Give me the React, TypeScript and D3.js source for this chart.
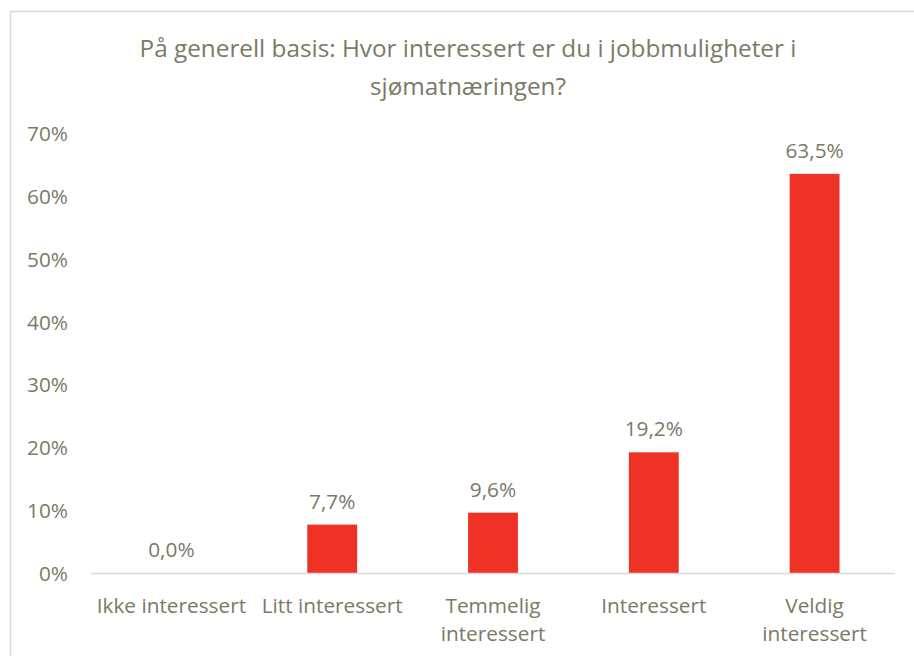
import React from "react";
import * as d3 from "d3";

const titleLines = ["På generell basis: Hvor interessert er du i jobbmuligheter i", "sjømatnæringen?"];
const categories = ["Ikke interessert", "Litt interessert", "Temmelig interessert", "Interessert", "Veldig interessert"];
const categoryLines = [["Ikke interessert"], ["Litt interessert"], ["Temmelig", "interessert"], ["Interessert"], ["Veldig", "interessert"]];
const values = [0.0, 7.7, 9.6, 19.2, 63.5];
const valueLabels = ["0,0%", "7,7%", "9,6%", "19,2%", "63,5%"];
const yTicks = [0, 10, 20, 30, 40, 50, 60, 70];

const W = 914;
const H = 656;
const textColor = "#7a7a66";
const barColor = "#EE3326";
const font = "'Open Sans', 'Noto Sans', sans-serif";

export default function App() {
  const x = d3.scaleBand<string>().domain(categories).range([91, 895]).paddingInner(0.69).paddingOuter(0.345);
  const band = d3.scaleBand<string>().domain(categories).range([91, 895]);
  const y = d3.scaleLinear().domain([0, 70]).range([573, 133]);
  return (
    <svg width={W} height={H} style={{ position: "absolute", left: 0, top: 0, background: "#fff" }} fontFamily={font}>
      <rect x={10.5} y={11.5} width={W + 10} height={H + 10} fill="#fff" stroke="#d9d9d9" strokeWidth={1.5} />
      {titleLines.map((t, i) => (
        <text key={i} x={468} y={47 + i * 38} textAnchor="middle" dominantBaseline="central" fontSize={24.3} fill={textColor}>
          {t}
        </text>
      ))}
      {yTicks.map((t) => (
        <text key={t} x={68} y={y(t)} textAnchor="end" dominantBaseline="central" fontSize={20.8} fill={textColor}>
          {t}%
        </text>
      ))}
      {categories.map((c, i) => (
        <rect key={c} x={x(c)} y={y(values[i])} width={x.bandwidth()} height={y(0) - y(values[i])} fill={barColor} />
      ))}
      <line x1={91} x2={895} y1={573.5} y2={573.5} stroke="#d9d9d9" strokeWidth={1.5} />
      {categories.map((c, i) => (
        <text key={c} x={(band(c) as number) + band.bandwidth() / 2} y={y(values[i]) - 24} textAnchor="middle" dominantBaseline="central" fontSize={20.8} fill={textColor}>
          {valueLabels[i]}
        </text>
      ))}
      {categories.map((c, i) => (
        <text key={c} x={(band(c) as number) + band.bandwidth() / 2} textAnchor="middle" fontSize={20.8} fill={textColor}>
          {categoryLines[i].map((l, j) => (
            <tspan key={j} x={(band(c) as number) + band.bandwidth() / 2} y={605 + j * 28} dominantBaseline="central">
              {l}
            </tspan>
          ))}
        </text>
      ))}
    </svg>
  );
}
